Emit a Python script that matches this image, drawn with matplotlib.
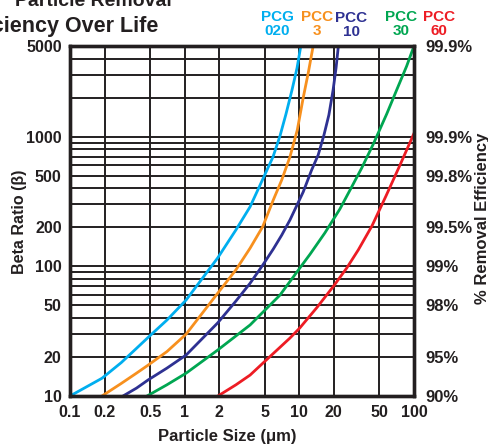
import matplotlib.pyplot as plt

plt.rcParams['font.family'] = ['Liberation Sans Narrow', 'Liberation Sans', 'DejaVu Sans']

# particle size (um) against beta ratio
pcg020_x = [0.1, 0.19, 0.28, 0.38, 0.48, 0.7, 1.03, 1.94, 2.8, 3.72, 4.72, 5.89, 6.78, 7.65, 8.63, 9.55, 10.3]
pcg020_b = [10, 13.7, 18.1, 23.3, 28.3, 38.5, 55, 116, 191, 288, 455, 697, 1012, 1495, 2289, 3383, 5000]

pcc3_x = [0.19, 0.28, 0.38, 0.48, 0.7, 1.03, 1.94, 2.8, 3.72, 4.79, 5.93, 7.02, 8.29, 9.6, 10.8, 12.0, 13.2]
pcc3_b = [10, 12.5, 15, 17.3, 22, 30, 62, 94, 138, 202, 325, 463, 700, 1125, 1986, 3150, 5000]

pcc10_x = [0.29, 0.38, 0.48, 0.7, 1.03, 1.94, 2.8, 3.72, 4.79, 5.93, 7.02, 8.29, 10.8, 12.8, 14.6, 16.4,
           18.1, 19.7, 20.9, 21.9]
pcc10_b = [10, 11.5, 13.3, 16.4, 20.7, 36.6, 54, 74, 102, 136, 174, 228, 374, 553, 722, 1030, 1470, 2290,
           3380, 5000]

pcc30_x = [0.47, 0.7, 1.03, 1.94, 3.72, 6.78, 10.1, 12.4, 16.7, 22.6, 27.7, 35, 44.2, 57.8, 70.6, 86.3, 100]
pcc30_b = [10, 12.2, 15, 22.6, 35.3, 60, 97, 124, 181, 277, 388, 573, 878, 1495, 2290, 3500, 5000]

pcc60_x = [1.95, 2.8, 3.72, 5.0, 8.29, 10.1, 14.2, 19.8, 25.9, 32.7, 43, 57, 75.5, 100]
pcc60_b = [10, 12.2, 14.5, 18.5, 28, 33.5, 48, 70, 97, 134, 205, 349, 604, 1060]

x_ticks = [0.1, 0.2, 0.5, 1, 2, 5, 10, 20, 50, 100]
x_labels = ['0.1', '0.2', '0.5', '1', '2', '5', '10', '20', '50', '100']
y_ticks = [10, 20, 50, 100, 200, 500, 1000, 5000]
y_labels = ['10', '20', '50', '100', '200', '500', '1000', '5000']
eff_labels = ['90%', '95%', '98%', '99%', '99.5%', '99.8%', '99.9%', '99.9%']

series = [
    ('PCG\n020', pcg020_x, pcg020_b, '#00aeef', 277, 24),
    ('PCC\n3', pcc3_x, pcc3_b, '#f7901e', 317, 24),
    ('PCC\n10', pcc10_x, pcc10_b, '#2e3192', 351, 25.5),
    ('PCC\n30', pcc30_x, pcc30_b, '#00a651', 401, 24),
    ('PCC\n60', pcc60_x, pcc60_b, '#ed1c24', 439, 24),
]

ink = '#231f20'
W, H = 488, 447

fig = plt.figure(figsize=(W / 100, H / 100), dpi=100)
ax = fig.add_axes([70 / W, 51 / H, 344 / W, 350 / H])
ax.set_xscale('log')
ax.set_yscale('log')
ax.set_xlim(0.1, 100)
ax.set_ylim(10, 5000)

ax.grid(which='both', color=ink, lw=1.4)
ax.set_axisbelow(True)

for name, xs, bs, col, lx, ly in series:
    ax.plot(xs, bs, color=col, lw=2.0, solid_joinstyle='round')
    fig.text(lx / W, 1 - ly / H, name, color=col, fontsize=11, fontweight='bold',
             ha='center', va='center', multialignment='center', linespacing=1.0)

ax.set_xticks(x_ticks, x_labels)
ax.set_yticks(y_ticks, y_labels)
ax.tick_params(which='both', length=0)
ax.tick_params(axis='x', pad=6.5, labelsize=11.5, labelcolor=ink)
ax.tick_params(axis='y', pad=6, labelsize=11.5, labelcolor=ink)
for lab in ax.get_xticklabels() + ax.get_yticklabels():
    lab.set_fontweight('bold')

ax2 = ax.twinx()
ax2.set_yscale('log')
ax2.set_ylim(10, 5000)
ax2.set_yticks(y_ticks, eff_labels)
ax2.minorticks_off()
ax2.tick_params(length=0, pad=8, labelsize=12, labelcolor=ink)
for lab in ax2.get_yticklabels():
    lab.set_fontweight('bold')

for a in (ax, ax2):
    for sp in a.spines.values():
        sp.set_linewidth(2.4)
        sp.set_color(ink)

fig.text(227 / W, 1 - 437 / H, 'Particle Size (\u03bcm)', fontsize=12, fontweight='bold',
         family=['Liberation Sans', 'DejaVu Sans'], color=ink, ha='center', va='center')
fig.text(20 / W, 1 - 222 / H, 'Beta Ratio (\u03b2)', fontsize=11.5, fontweight='bold',
         color=ink, rotation=90, ha='center', va='center')
fig.text(482 / W, 1 - 218 / H, '% Removal Efficiency', fontsize=12, fontweight='bold',
         family=['Liberation Sans', 'DejaVu Sans'], color=ink, rotation=90, ha='center', va='center')

# title runs off the top-left corner, as in the source image
fig.text(172 / W, 1 - 6 / H, 'Particle Removal', fontsize=14, fontweight='bold',
         family=['Liberation Sans', 'DejaVu Sans'], color=ink, ha='right', va='baseline')
fig.text(158 / W, 1 - 32 / H, 'Efficiency Over Life', fontsize=15.5, fontweight='bold',
         family=['Liberation Sans', 'DejaVu Sans'], color=ink, ha='right', va='baseline')

fig.savefig('out.png', dpi=100)
